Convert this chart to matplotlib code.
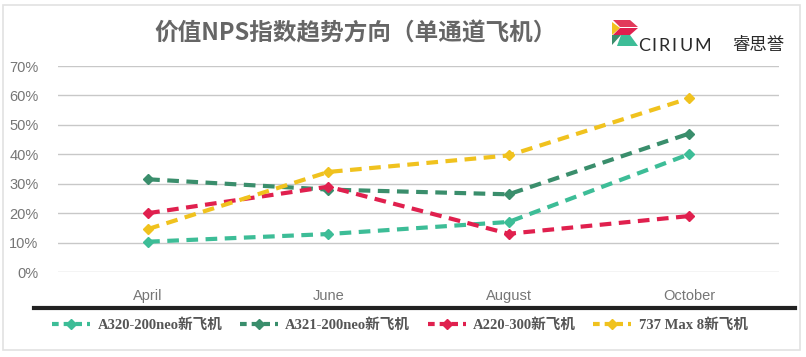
import matplotlib
matplotlib.use("Agg")
import matplotlib.pyplot as plt
from matplotlib.lines import Line2D
from matplotlib.patches import Polygon, Rectangle

months = ["April", "June", "August", "October"]
series_names = ["A320-200neo新飞机", "A321-200neo新飞机", "A220-300新飞机", "737 Max 8新飞机"]
a320 = [10.3, 12.9, 17.0, 40.0]
a321 = [31.5, 28.0, 26.4, 47.0]
a220 = [20.0, 29.0, 13.0, 19.0]
b737 = [14.6, 34.0, 39.6, 59.0]
colors = ["#3dbd97", "#3a8e6c", "#e0204e", "#f0c21e"]
yticks = [0, 10, 20, 30, 40, 50, 60, 70]
title = "价值NPS指数趋势方向（单通道飞机）"

plt.rcParams['font.family'] = ['Liberation Sans', 'Noto Sans CJK SC', 'DejaVu Sans']

W, H = 806, 357
fig = plt.figure(figsize=(W / 100, H / 100), dpi=100)
ax = fig.add_axes([58 / W, 1 - 272 / H, (779 - 58) / W, (272 - 66) / H])

x = list(range(len(months)))
for vals, c, name in zip([a320, a321, a220, b737], colors, series_names):
    ax.plot(x, vals, color=c, lw=3, ls=(0, (2.8, 1.8)), marker='D', ms=5.5,
            markeredgecolor=c, label=name, zorder=3)

ax.set_xlim(-0.5, 3.5)
ax.set_ylim(0, 70)
ax.set_yticks(yticks)
ax.set_yticklabels([f"{v}%" for v in yticks], color="#767676", fontsize=10.5)
ax.set_xticks(x)
ax.set_xticklabels(months, color="#767676", fontsize=10.5)
ax.tick_params(axis='both', length=0)
ax.tick_params(axis='y', pad=14)
ax.tick_params(axis='x', pad=12)
ax.grid(axis='y', color="#c8c8c8", lw=1)
for s in ax.spines.values():
    s.set_visible(False)

# thick black separator
fig.add_artist(Line2D([34 / W, 795 / W], [1 - 308 / H, 1 - 308 / H], color="#222222", lw=3))

# outer frame
fig.add_artist(Rectangle((3 / W, 1 - 350 / H), 797 / W, 345 / H, fill=False,
                         edgecolor="#e2e2e2", lw=1.2))

# title
fig.text(356 / W, 1 - 33 / H, title, ha='center', va='center', fontsize=17,
         fontweight='bold', color="#666666", family=['Noto Sans CJK SC', 'DejaVu Sans'])

# logo
def P(pts, c):
    fig.add_artist(Polygon([(px / W, 1 - py / H) for px, py in pts], closed=True,
                           facecolor=c, edgecolor='none'))
P([(613, 20), (630, 20), (638, 27), (620, 27)], "#e23a5a")
P([(612, 22), (620, 28), (612, 35)], "#f2c21e")
P([(620, 28), (638, 28), (630, 35), (613, 35)], "#e0204e")
P([(612, 35), (621, 35), (612, 45)], "#3a8e6c")
P([(621, 35), (630, 35), (638, 46), (617, 46)], "#3dbd97")
for ch, cx in zip("CIRIUM", [644, 654, 664, 674, 686, 703]):
    fig.text(cx / W, 1 - 46 / H, ch, ha='center', va='center', fontsize=13,
             color="#2a2a2a", family=['Lato'])
fig.text(758 / W, 1 - 45 / H, "睿思誉", ha='center', va='center', fontsize=12.5,
         color="#2a2a2a", family=['Noto Sans CJK SC'])

# legend
handles = [Line2D([0], [0], color=c, lw=3, ls=(0, (1.6, 1.2)), marker='D', ms=5.5)
           for c in colors]
leg = fig.legend(handles, series_names, loc='center', bbox_to_anchor=(400 / W, 1 - 325 / H),
                 ncol=4, frameon=False, handlelength=2.6, columnspacing=1.2,
                 handletextpad=0.5, prop={'family': ['Liberation Serif', 'Noto Sans CJK SC'],
                                          'size': 10.5, 'weight': 'bold'})
for t in leg.get_texts():
    t.set_color("#555555")

fig.savefig("out.png", dpi=100)
